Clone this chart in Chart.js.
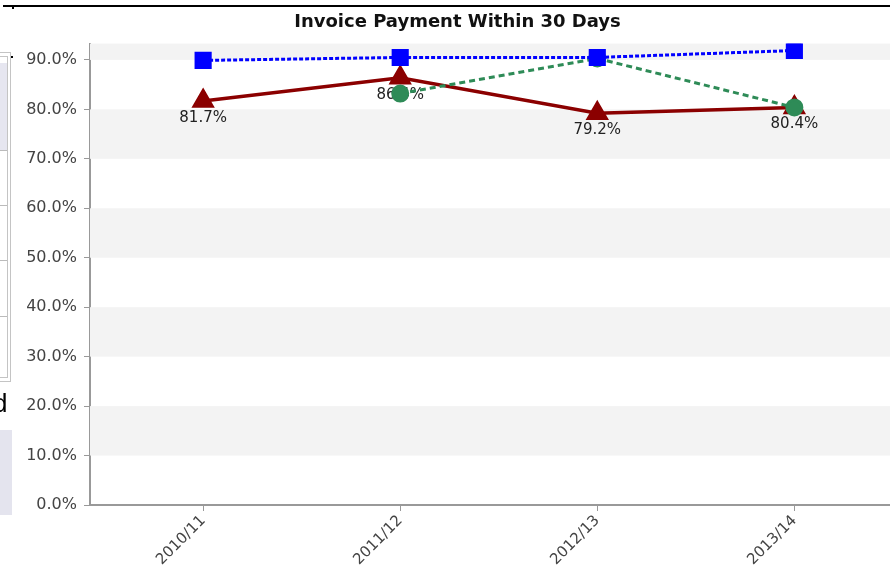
<!DOCTYPE html>
<html>
<head>
<meta charset="UTF-8" />
<title>Invoice Payment Within 30 Days</title>
<script src="https://cdn.jsdelivr.net/npm/chart.js@4/dist/chart.umd.min.js"></script>
<style>
    body { margin: 0; background: #fff; overflow: hidden; width: 890px; height: 571px; position: relative; }
    #wrap { position: absolute; left: 0; top: 0; width: 921px; height: 571px; }
    .bx { position: absolute; }
</style>
</head>
<body>
<div id="wrap"><canvas id="invChart" width="921" height="571"></canvas></div>

<!-- bits of the page that sit round the chart -->
<div class="bx" style="left:3px;top:5px;width:887px;height:2px;background:#000;"></div>
<div class="bx" style="left:12px;top:6px;width:2px;height:3px;background:#000;"></div>
<div class="bx" style="left:-2px;top:52px;width:12px;height:328px;border:1px solid #c4c4c4;border-left:none;"></div>
<div class="bx" style="left:-2px;top:56px;width:9px;height:320px;border:1px solid #c4c4c4;border-left:none;"></div>
<div class="bx" style="left:0;top:63px;width:7px;height:87px;background:#e6e6f0;"></div>
<div class="bx" style="left:0;top:150px;width:7px;height:1px;background:#bbb;"></div>
<div class="bx" style="left:0;top:205px;width:7px;height:1px;background:#bbb;"></div>
<div class="bx" style="left:0;top:260px;width:7px;height:1px;background:#bbb;"></div>
<div class="bx" style="left:0;top:316px;width:7px;height:1px;background:#bbb;"></div>
<div class="bx" style="left:11px;top:56px;width:2px;height:2px;background:#000;"></div>
<div class="bx" style="left:-7px;top:388px;font:26px 'Liberation Sans',Arial,sans-serif;color:#000;">d</div>
<div class="bx" style="left:0;top:430px;width:12px;height:85px;background:#e4e4ee;"></div>

<script>
    var years = ["2010/11", "2011/12", "2012/13", "2013/14"];

    var blueVals = [89.9, 90.5, 90.5, 91.9];
    var greenVals = [null, 83.2, 90.3, 80.4];
    var redVals = [81.7, 86.4, 79.2, 80.4];

    var yTicks = [0, 10, 20, 30, 40, 50, 60, 70, 80, 90];

    function pts(vals) {
        return vals.map(function (v, i) { return { x: i, y: v }; });
    }

    // grey stripes every other 10%
    var bandPlugin = {
        id: 'bands',
        beforeDatasetsDraw: function (chart) {
            var c = chart.ctx, a = chart.chartArea, y = chart.scales.y;
            c.save();
            c.fillStyle = '#f3f3f3';
            for (var v = 10; v < y.max; v += 20) {
                var top = Math.max(y.getPixelForValue(v + 10), a.top);
                var bot = y.getPixelForValue(v);
                c.fillRect(a.left, top, a.right - a.left, bot - top);
            }
            c.restore();
        }
    };

    // value labels under the red line
    var labelPlugin = {
        id: 'vlabels',
        afterDatasetDraw: function (chart, args) {
            if (args.index !== 2) return;
            var c = chart.ctx;
            c.save();
            c.font = '15px "DejaVu Sans", Verdana, sans-serif';
            c.fillStyle = '#222';
            c.textAlign = 'center';
            c.textBaseline = 'middle';
            args.meta.data.forEach(function (p, i) {
                c.fillText(redVals[i].toFixed(1) + '%', p.x, p.y + 17);
            });
            c.restore();
        }
    };

    var ctx = document.getElementById("invChart");
    var invChart = new Chart(ctx, {
        type: 'line',
        data: {
            datasets: [
                {
                    data: pts(blueVals),
                    borderColor: "#0000ff",
                    backgroundColor: "#0000ff",
                    borderWidth: 3,
                    borderDash: [4, 2],
                    pointStyle: 'rect',
                    pointRadius: 10,
                    pointHoverRadius: 10
                },
                {
                    data: pts(greenVals),
                    borderColor: "#2e8b57",
                    backgroundColor: "#2e8b57",
                    borderWidth: 3,
                    borderDash: [6, 4],
                    pointStyle: 'circle',
                    pointRadius: 7.5,
                    pointHoverRadius: 7.5
                },
                {
                    data: pts(redVals),
                    borderColor: "#8b0000",
                    backgroundColor: "#8b0000",
                    borderWidth: 3.5,
                    pointStyle: 'triangle',
                    pointRadius: 10,
                    pointHoverRadius: 10
                }
            ]
        },
        options: {
            responsive: false,
            animation: false,
            layout: { padding: { left: 0, right: 6, top: 0, bottom: 0 } },
            plugins: {
                legend: { display: false },
                tooltip: { enabled: false },
                title: {
                    display: true,
                    text: 'Invoice Payment Within 30 Days',
                    color: '#111',
                    font: { family: '"DejaVu Sans", Tahoma, sans-serif', size: 18, weight: 'bold' },
                    padding: { top: 12, bottom: 10 }
                }
            },
            scales: {
                x: {
                    type: 'linear',
                    min: -0.574,
                    max: 3.574,
                    afterBuildTicks: function (s) {
                        s.ticks = years.map(function (y, i) { return { value: i }; });
                    },
                    afterFit: function (s) { s.height = 66; },
                    ticks: {
                        autoSkip: false,
                        minRotation: 45,
                        maxRotation: 45,
                        color: '#444',
                        padding: 1,
                        font: { family: '"DejaVu Sans", Verdana, sans-serif', size: 15 },
                        callback: function (v) { return years[v]; }
                    },
                    grid: { drawOnChartArea: false, tickLength: 6, color: '#999' },
                    border: { color: '#999', width: 2 }
                },
                y: {
                    min: 0,
                    max: 93.3,
                    afterBuildTicks: function (s) {
                        s.ticks = yTicks.map(function (v) { return { value: v }; });
                    },
                    afterFit: function (s) { s.width = 90; },
                    ticks: {
                        color: '#444',
                        padding: 7,
                        font: { family: '"DejaVu Sans", Verdana, sans-serif', size: 16 },
                        callback: function (v) { return v.toFixed(1) + '%'; }
                    },
                    grid: { drawOnChartArea: false, tickLength: 6, color: '#999' },
                    border: { color: '#999', width: 2 }
                }
            }
        },
        plugins: [bandPlugin, labelPlugin]
    });
</script>
</body>
</html>
